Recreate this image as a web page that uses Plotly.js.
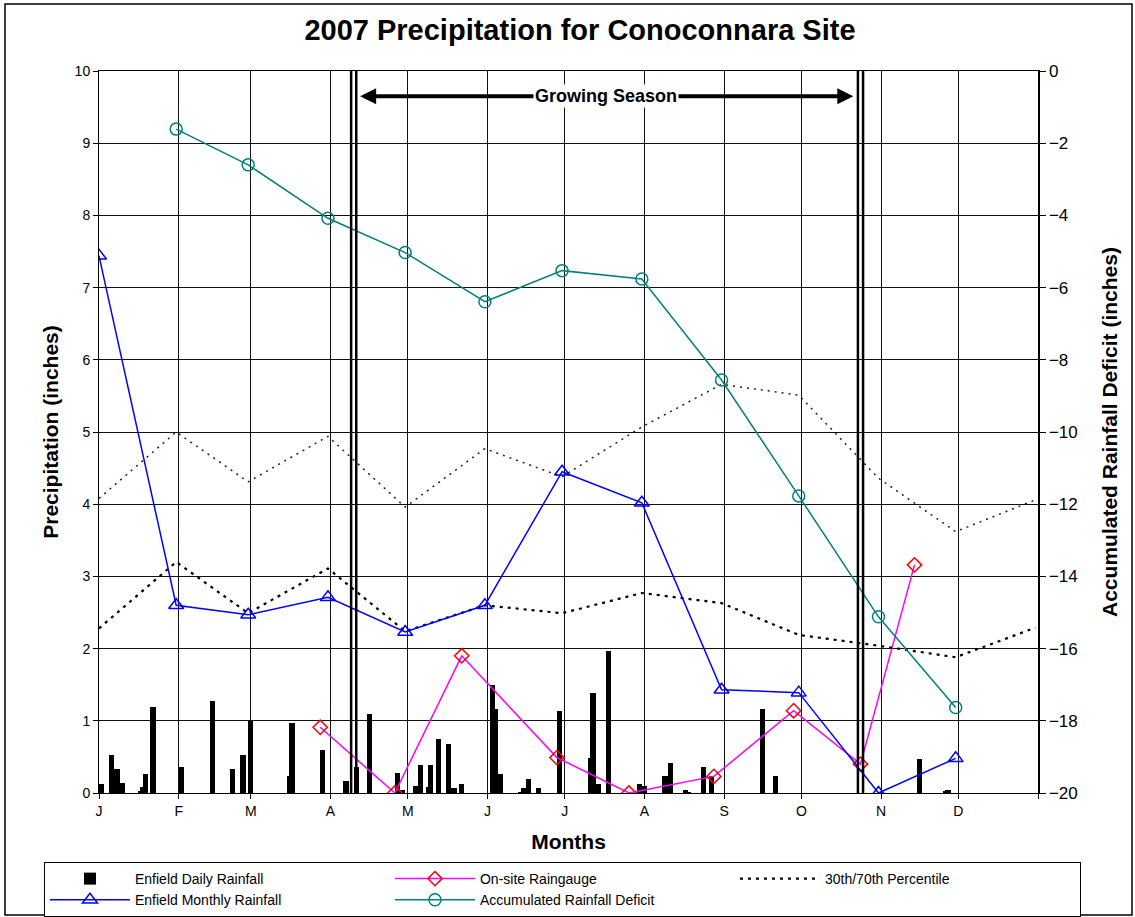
<!DOCTYPE html>
<html>
<head>
<meta charset="utf-8">
<script src="https://cdn.plot.ly/plotly-3.0.1.min.js"></script>
<style>
html,body{margin:0;padding:0;background:#fff;}
#chart{width:1135px;height:917px;}
</style>
</head>
<body>
<div id="chart"></div>
<script>
// ---------- DATA ----------
const monthStarts = ['2007-01-01','2007-02-01','2007-03-01','2007-04-01','2007-05-01','2007-06-01','2007-07-01','2007-08-01','2007-09-01','2007-10-01','2007-11-01','2007-12-01','2008-01-01'];
const monthLabels = ['J','F','M','A','M','J','J','A','S','O','N','D',''];

// monthly points (plotted at month ends as in the source sheet)
const monthPoints = ['2007-01-01','2007-01-31','2007-02-28','2007-03-31','2007-04-30','2007-05-31','2007-06-30','2007-07-31','2007-08-31','2007-09-30','2007-10-31','2007-11-30','2007-12-31'];

const enfieldMonthly = [7.44, 2.60, 2.47, 2.71, 2.23, 2.60, 4.45, 4.02, 1.43, 1.39, 0.00, 0.48];
const deficitDates = monthPoints.slice(1, 12);
const accumulatedDeficit = [-1.61, -2.60, -4.08, -5.03, -6.39, -5.53, -5.76, -8.56, -11.77, -15.12, -17.63];

const percentile70 = [4.08, 5.00, 4.31, 4.94, 3.96, 4.77, 4.38, 5.07, 5.66, 5.51, 4.36, 3.62, 4.06];
const percentile30 = [2.28, 3.20, 2.49, 3.11, 2.24, 2.60, 2.49, 2.77, 2.63, 2.19, 2.04, 1.88, 2.29];

const onsiteDates = ['2007-03-28','2007-04-26','2007-05-22','2007-06-28','2007-07-26','2007-08-28','2007-09-28','2007-10-24','2007-11-14'];
const onsiteRain = [0.91, 0.00, 1.90, 0.49, 0.00, 0.23, 1.14, 0.40, 3.16];

const dailyDates = [
 '2007-01-02','2007-01-06','2007-01-08','2007-01-10','2007-01-17','2007-01-18','2007-01-19','2007-01-22',
 '2007-02-02','2007-02-14','2007-02-22','2007-02-26',
 '2007-03-01','2007-03-16','2007-03-17','2007-03-29',
 '2007-04-07','2007-04-11','2007-04-16','2007-04-27','2007-04-29',
 '2007-05-04','2007-05-06','2007-05-09','2007-05-10','2007-05-13','2007-05-17','2007-05-19','2007-05-22',
 '2007-06-03','2007-06-04','2007-06-06','2007-06-14','2007-06-15','2007-06-17','2007-06-21','2007-06-29',
 '2007-07-11','2007-07-12','2007-07-14','2007-07-18','2007-07-30',
 '2007-08-01','2007-08-09','2007-08-11','2007-08-17','2007-08-18','2007-08-24','2007-08-27',
 '2007-09-16','2007-09-21',
 '2007-11-16','2007-11-26','2007-11-27'];
const dailyRain = [
 0.12, 0.52, 0.33, 0.14, 0.03, 0.09, 0.27, 1.19,
 0.36, 1.28, 0.33, 0.53,
 1.00, 0.23, 0.97, 0.60,
 0.17, 0.36, 1.09, 0.28, 0.04,
 0.10, 0.39, 0.09, 0.39, 0.75, 0.68, 0.07, 0.12,
 1.50, 1.17, 0.27, 0.02, 0.07, 0.20, 0.07, 1.14,
 0.49, 1.38, 0.12, 1.97, 0.12,
 0.10, 0.24, 0.42, 0.04, 0.02, 0.36, 0.23,
 1.16, 0.23,
 0.47, 0.03, 0.04];

const growingSeason = ['2007-04-10', '2007-10-24'];
const growingLabel = 'Growing Season';

// ---------- HELPERS ----------
const DAY = 86400000;
function shiftDate(s, days) {
  const d = new Date(Date.parse(s + 'T00:00:00Z') + days * DAY);
  const p = n => String(n).padStart(2, '0');
  return d.getUTCFullYear() + '-' + p(d.getUTCMonth() + 1) + '-' + p(d.getUTCDate()) + ' ' + p(d.getUTCHours()) + ':' + p(d.getUTCMinutes());
}
const FONT = 'Arial, "Liberation Sans", sans-serif';

// ---------- TRACES ----------
const traces = [
  {
    type: 'bar', name: 'Enfield Daily Rainfall',
    x: dailyDates, y: dailyRain, width: 2.0 * DAY,
    marker: {color: '#000', line: {width: 0}},
    yaxis: 'y'
  },
  {
    type: 'scatter', mode: 'lines+markers', name: 'On-site Raingauge',
    x: onsiteDates, y: onsiteRain,
    line: {color: '#FF00FF', width: 1.5},
    marker: {symbol: 'diamond-open', size: 11, color: '#FF0000', line: {width: 1.5, color: '#FF0000'}}
  },
  {
    type: 'scatter', mode: 'lines', name: '30th/70th Percentile',
    x: monthPoints, y: percentile30,
    line: {color: '#000', width: 2.2, dash: '3px,5px'}
  },
  {
    type: 'scatter', mode: 'lines', name: '70th Percentile', showlegend: false,
    x: monthPoints, y: percentile70,
    line: {color: '#222', width: 1.5, dash: '2px,5px'}
  },
  {
    type: 'scatter', mode: 'lines+markers', name: 'Enfield Monthly Rainfall',
    x: monthPoints.slice(0, 12), y: enfieldMonthly,
    line: {color: '#0000FF', width: 1.5},
    marker: {symbol: 'triangle-up-open', size: 13, color: '#0000FF', line: {width: 1.5, color: '#0000FF'}}
  },
  {
    type: 'scatter', mode: 'lines+markers', name: 'Accumulated Rainfall Deficit',
    x: deficitDates, y: accumulatedDeficit, yaxis: 'y2',
    line: {color: '#008080', width: 1.5},
    marker: {symbol: 'circle-open', size: 12, color: '#008080', line: {width: 1.5, color: '#008080'}}
  }
];

// ---------- SHAPES / ANNOTATIONS ----------
const shapes = [];
growingSeason.forEach(d => {
  [-1, 1].forEach(off => {
    shapes.push({type: 'line', xref: 'x', yref: 'paper', x0: shiftDate(d, off), x1: shiftDate(d, off), y0: 0, y1: 1,
      line: {color: '#000', width: 2.5}});
  });
});
// outer chart frame
shapes.push({type: 'rect', xref: 'paper', yref: 'paper', x0: -0.1001, x1: 1.1001, y0: -0.1690, y1: 1.0928,
  line: {color: '#000', width: 1.5}, fillcolor: 'rgba(0,0,0,0)', layer: 'below'});

const arrowY = 9.65;
const tipL = shiftDate(growingSeason[0], 2.5);
const tipR = shiftDate(growingSeason[1], -2.8);
const mid = shiftDate('2007-07-17', 0);
const annotations = [
  {xref: 'x', yref: 'y', axref: 'x', ayref: 'y', x: tipL, y: arrowY, ax: mid, ay: arrowY, text: '',
   showarrow: true, arrowhead: 2, arrowsize: 0.8, arrowwidth: 4, arrowcolor: '#000'},
  {xref: 'x', yref: 'y', axref: 'x', ayref: 'y', x: tipR, y: arrowY, ax: mid, ay: arrowY, text: '',
   showarrow: true, arrowhead: 2, arrowsize: 0.8, arrowwidth: 4, arrowcolor: '#000'},
  {xref: 'x', yref: 'y', x: mid, y: arrowY, text: growingLabel, showarrow: false,
   bgcolor: '#fff', borderpad: 1, font: {family: FONT, size: 18, color: '#000', weight: 'bold'}}
];

// ---------- LAYOUT ----------
const layout = {
  width: 1135, height: 917,
  margin: {l: 99, r: 97, t: 71, b: 124, autoexpand: false},
  paper_bgcolor: '#fff', plot_bgcolor: '#fff',
  font: {family: FONT, color: '#000', size: 14},
  title: {text: '2007 Precipitation for Conoconnara Site', x: 0.511, xanchor: 'center', y: 0.967, yanchor: 'middle',
          font: {family: FONT, size: 29, color: '#000', weight: 'bold'}},
  bargap: 0,
  showlegend: true,
  legend: {
    orientation: 'h', xref: 'paper', yref: 'paper',
    x: -0.0586, xanchor: 'left', y: -0.0956, yanchor: 'top',
    bordercolor: '#000', borderwidth: 1, bgcolor: '#fff',
    font: {family: FONT, size: 14, color: '#000'},
    itemwidth: 80,
    entrywidth: 250, entrywidthmode: 'pixels', traceorder: 'normal', tracegroupgap: 0
  },
  xaxis: {
    type: 'date', range: ['2007-01-01', '2008-01-01'],
    tickmode: 'array', tickvals: monthStarts, ticktext: monthLabels,
    ticks: 'outside', ticklen: 5, tickcolor: '#000', tickwidth: 1,
    showgrid: true, gridcolor: '#111', gridwidth: 1,
    showline: true, linecolor: '#000', linewidth: 1, mirror: true,
    zeroline: false,
    tickfont: {family: FONT, size: 14, color: '#000'},
    title: {text: 'Months', standoff: 16, font: {family: FONT, size: 21, color: '#000', weight: 'bold'}}
  },
  yaxis: {
    range: [0, 10], dtick: 1, tick0: 0,
    ticks: 'outside', ticklen: 5, tickcolor: '#000',
    showgrid: true, gridcolor: '#111', gridwidth: 1,
    showline: true, linecolor: '#000', linewidth: 1,
    zeroline: false,
    tickfont: {family: FONT, size: 14, color: '#000'},
    title: {text: 'Precipitation (inches)', standoff: 10, font: {family: FONT, size: 21, color: '#000', weight: 'bold'}}
  },
  yaxis2: {
    overlaying: 'y', side: 'right', range: [-20, 0], dtick: 2, tick0: 0,
    ticks: 'outside', ticklen: 6, tickcolor: '#000',
    showgrid: false, showline: true, linecolor: '#000', linewidth: 1.5,
    zeroline: false,
    tickfont: {family: FONT, size: 17, color: '#000'},
    title: {text: 'Accumulated Rainfall Deficit (inches)', standoff: 25, font: {family: FONT, size: 21, color: '#000', weight: 'bold'}}
  },
  shapes: shapes,
  annotations: annotations
};

Plotly.newPlot('chart', traces, layout, {displayModeBar: false, staticPlot: true});
</script>
</body>
</html>
